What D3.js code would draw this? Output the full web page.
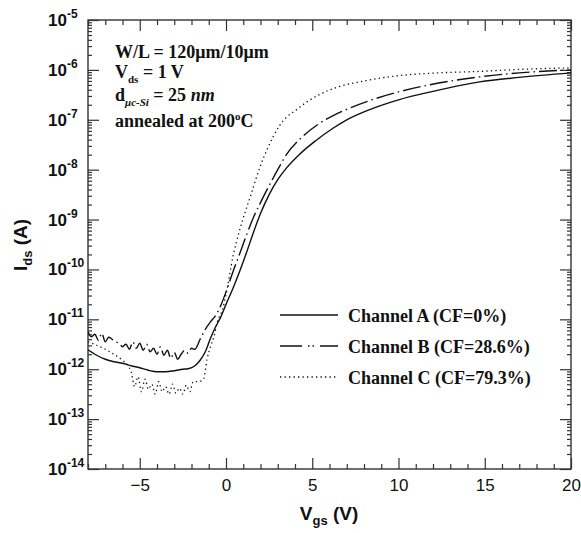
<!DOCTYPE html>
<html>
<head>
<meta charset="utf-8">
<script src="https://cdn.jsdelivr.net/npm/d3@7"></script>
<style>
  body { margin: 0; background: #fff; }
  text { fill: #111; }
</style>
</head>
<body>
<svg id="chart" width="581" height="533"></svg>
<script>
// gate voltage (V) and log10 of drain current (A)
let vgsA = [-8, -7.5, -7, -6.5, -6, -5.5, -5, -4.5, -4, -3.5, -3, -2.5, -2.2, -1.8, -1.5, -1.2, -0.9, -0.6, -0.3, 0, 0.4, 0.8, 1.2, 1.6, 2, 2.5, 3, 3.5, 4.3, 5.2, 6.2, 7, 8, 9, 10, 12, 14.7, 17, 20];
let logIdsA = [-11.61, -11.72, -11.8, -11.85, -11.88, -11.93, -11.97, -12.02, -12.05, -12.05, -12.03, -12.0, -11.99, -11.93, -11.82, -11.65, -11.38, -11.15, -10.95, -10.7, -10.38, -10.03, -9.65, -9.25, -8.88, -8.5, -8.2, -7.97, -7.68, -7.42, -7.17, -7.0, -6.84, -6.71, -6.6, -6.43, -6.24, -6.15, -6.06];

let vgsB = [-8, -7.8, -7.6, -7.4, -7.2, -7, -6.8, -6.6, -6.4, -6.2, -6, -5.8, -5.6, -5.4, -5.2, -5, -4.8, -4.6, -4.4, -4.2, -4, -3.8, -3.6, -3.4, -3.2, -3, -2.8, -2.6, -2.4, -2.2, -2, -1.8, -1.5, -1.2, -0.9, -0.6, -0.3, 0, 0.4, 0.8, 1.2, 1.6, 2, 2.5, 3, 3.5, 4.4, 5.3, 6.3, 7, 8.2, 9.9, 11.8, 14.7, 17, 20];
let logIdsB = [-11.25, -11.35, -11.3, -11.42, -11.28, -11.45, -11.36, -11.4, -11.45, -11.48, -11.55, -11.5, -11.6, -11.45, -11.58, -11.48, -11.62, -11.5, -11.65, -11.58, -11.7, -11.55, -11.72, -11.62, -11.78, -11.66, -11.8, -11.7, -11.62, -11.68, -11.58, -11.6, -11.4, -11.2, -11.05, -10.92, -10.72, -10.45, -10.05, -9.68, -9.3, -8.95, -8.66, -8.32, -8.0, -7.7, -7.35, -7.1, -6.9, -6.79, -6.63, -6.45, -6.3, -6.14, -6.06, -6.0];

let vgsC = [-8, -7.5, -7, -6.5, -6, -5.7, -5.5, -5.3, -5.1, -4.9, -4.7, -4.5, -4.3, -4.1, -3.9, -3.7, -3.5, -3.3, -3.1, -2.9, -2.7, -2.5, -2.3, -2.1, -1.9, -1.6, -1.3, -1.1, -0.9, -0.7, -0.5, -0.2, 0, 0.4, 0.8, 1.4, 2, 2.4, 3.1, 3.5, 4, 4.7, 5.5, 6.6, 7.9, 9.9, 11.7, 14.7, 17, 20];
let logIdsC = [-11.45, -11.52, -11.6, -11.7, -11.82, -11.92, -12.05, -12.35, -12.15, -12.45, -12.2, -12.4, -12.3, -12.5, -12.25, -12.45, -12.35, -12.5, -12.3, -12.48, -12.38, -12.5, -12.32, -12.45, -12.25, -12.25, -12.2, -11.8, -11.55, -11.35, -11.05, -10.8, -10.5, -9.75, -9.2, -8.55, -7.92, -7.58, -7.12, -6.95, -6.82, -6.64, -6.48, -6.33, -6.23, -6.12, -6.07, -6.03, -5.99, -5.96];

let legendLabels = ["Channel A (CF=0%)", "Channel B (CF=28.6%)", "Channel C (CF=79.3%)"];
let xTicks = [-5, 0, 5, 10, 15, 20];
let yExponents = [-5, -6, -7, -8, -9, -10, -11, -12, -13, -14];

let svg = d3.select("#chart");

let x = d3.scaleLinear().domain([-8, 20]).range([88, 571]);
let y = d3.scaleLog().domain([1e-14, 1e-5]).range([469, 20]);

let axisColor = "#333";

// minor tick values
let xMinor = d3.range(-8, 21, 1).filter(v => v % 5 != 0);
let yMinor = [];
for (let e = -14; e < -5; e++) {
  for (let m = 2; m <= 9; m++) yMinor.push(m * Math.pow(10, e));
}
let yMajor = yExponents.map(e => Math.pow(10, e));

function styleAxis(g) {
  g.select(".domain").remove();
  g.selectAll("line").attr("stroke", axisColor).attr("stroke-width", 1.2);
}

// bottom axis
svg.append("g").attr("transform", "translate(0,469)")
  .call(d3.axisBottom(x).tickValues(xMinor).tickSize(-5).tickFormat(""))
  .call(styleAxis);
svg.append("g").attr("transform", "translate(0,469)")
  .call(d3.axisBottom(x).tickValues(xTicks).tickSize(-11).tickPadding(10).tickFormat(d3.format("d")))
  .call(styleAxis)
  .call(g => g.selectAll("text")
    .attr("fill", "#111")
    .style("font-family", "Liberation Sans, Arial, sans-serif")
    .style("font-size", "17px"));

// top axis
svg.append("g").attr("transform", "translate(0,20)")
  .call(d3.axisTop(x).tickValues(xMinor).tickSize(-5).tickFormat(""))
  .call(styleAxis);
svg.append("g").attr("transform", "translate(0,20)")
  .call(d3.axisTop(x).tickValues(xTicks).tickSize(-11).tickFormat(""))
  .call(styleAxis);

// left axis
svg.append("g").attr("transform", "translate(88,0)")
  .call(d3.axisLeft(y).tickValues(yMinor).tickSize(-4).tickFormat(""))
  .call(styleAxis);
svg.append("g").attr("transform", "translate(88,0)")
  .call(d3.axisLeft(y).tickValues(yMajor).tickSize(-11).tickFormat(""))
  .call(styleAxis);

// right axis
svg.append("g").attr("transform", "translate(571,0)")
  .call(d3.axisRight(y).tickValues(yMinor).tickSize(-4).tickFormat(""))
  .call(styleAxis);
svg.append("g").attr("transform", "translate(571,0)")
  .call(d3.axisRight(y).tickValues(yMajor).tickSize(-11).tickFormat(""))
  .call(styleAxis);

// frame
svg.append("rect")
  .attr("x", 88).attr("y", 20)
  .attr("width", 571 - 88).attr("height", 469 - 20)
  .attr("fill", "none")
  .attr("stroke", axisColor)
  .attr("stroke-width", 1.4);

// y tick labels 10^n
let yLab = svg.append("g")
  .style("font-family", "Liberation Sans, Arial, sans-serif")
  .style("font-weight", "bold");
yExponents.forEach(e => {
  let t = yLab.append("text")
    .attr("x", 48)
    .attr("y", y(Math.pow(10, e)) + 6);
  t.append("tspan").style("font-size", "17px").text("10");
  t.append("tspan").style("font-size", "12px").attr("dy", -8).text(e);
});

// axis titles
let xt = svg.append("text")
  .attr("x", 329).attr("y", 520)
  .attr("text-anchor", "middle")
  .style("font-family", "Liberation Sans, Arial, sans-serif")
  .style("font-weight", "bold")
  .style("font-size", "19px");
xt.append("tspan").text("V");
xt.append("tspan").attr("dy", 5).style("font-size", "13px").text("gs");
xt.append("tspan").attr("dy", -5).text(" (V)");

let yt = svg.append("text")
  .attr("transform", "translate(27,245) rotate(-90)")
  .attr("text-anchor", "middle")
  .style("font-family", "Liberation Sans, Arial, sans-serif")
  .style("font-weight", "bold")
  .style("font-size", "19px");
yt.append("tspan").text("I");
yt.append("tspan").attr("dy", 5).style("font-size", "13px").text("ds");
yt.append("tspan").attr("dy", -5).text(" (A)");

// curves
let line = d3.line()
  .curve(d3.curveMonotoneX)
  .x(d => x(d[0]))
  .y(d => y(Math.pow(10, d[1])));

let series = [
  { v: vgsA, l: logIdsA, dash: null, width: 1.4 },
  { v: vgsB, l: logIdsB, dash: "18,4,1.5,4", width: 1.4 },
  { v: vgsC, l: logIdsC, dash: "1.3,3.2", width: 1.3 }
];

svg.append("defs").append("clipPath").attr("id", "plot")
  .append("rect").attr("x", 88).attr("y", 20).attr("width", 483).attr("height", 449);

series.forEach(s => {
  svg.append("path")
    .datum(d3.zip(s.v, s.l))
    .attr("clip-path", "url(#plot)")
    .attr("d", line)
    .attr("fill", "none")
    .attr("stroke", "#111")
    .attr("stroke-width", s.width)
    .attr("stroke-dasharray", s.dash)
    .attr("stroke-linejoin", "round");
});

// legend
let legend = svg.append("g");
legendLabels.forEach((lab, i) => {
  let ly = [315, 346, 377][i];
  legend.append("line")
    .attr("x1", 280).attr("x2", 338)
    .attr("y1", ly).attr("y2", ly)
    .attr("stroke", "#111")
    .attr("stroke-width", series[i].width)
    .attr("stroke-dasharray", i == 1 ? "22,6,1.5,3,1.5,6" : series[i].dash);
  legend.append("text")
    .attr("x", 348).attr("y", ly + 7)
    .style("font-family", "Liberation Serif, Times New Roman, serif")
    .style("font-weight", "bold")
    .style("font-size", "18px")
    .text(lab);
});

// annotation
let note = svg.append("g")
  .style("font-family", "Liberation Serif, Times New Roman, serif")
  .style("font-weight", "bold")
  .style("font-size", "18px");

note.append("text").attr("x", 115).attr("y", 58).text("W/L = 120\u03bcm/10\u03bcm");

let n2 = note.append("text").attr("x", 115).attr("y", 78);
n2.append("tspan").text("V");
n2.append("tspan").attr("dy", 5).style("font-size", "11px").text("ds");
n2.append("tspan").attr("dy", -5).text(" = 1 V");

let n3 = note.append("text").attr("x", 115).attr("y", 101);
n3.append("tspan").text("d");
n3.append("tspan").attr("dy", 5).style("font-size", "11px").style("font-style", "italic").text("\u03bcc-Si");
n3.append("tspan").attr("dy", -5).text(" = 25 ");
n3.append("tspan").style("font-style", "italic").text("nm");

let n4 = note.append("text").attr("x", 115).attr("y", 127);
n4.append("tspan").text("annealed at 200");
n4.append("tspan").attr("dy", -7).style("font-size", "11px").text("o");
n4.append("tspan").attr("dy", 7).text("C");
</script>
</body>
</html>
